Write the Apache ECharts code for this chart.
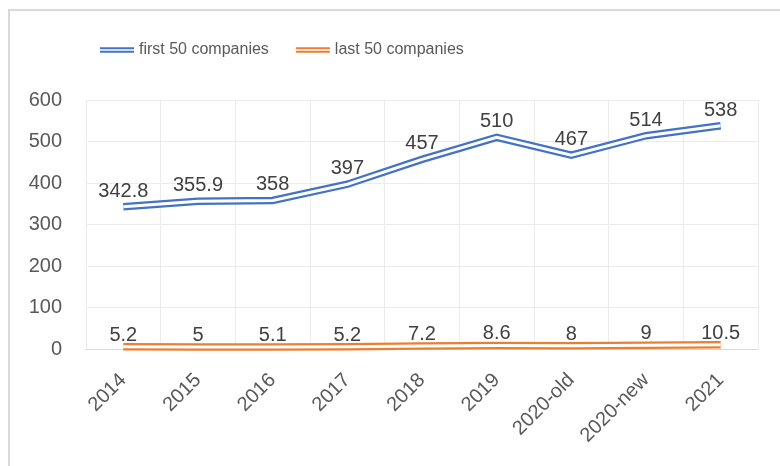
<!DOCTYPE html>
<html>
<head>
<meta charset="utf-8">
<script src="https://cdn.jsdelivr.net/npm/echarts@6/dist/echarts.min.js"></script>
<style>
html,body{margin:0;padding:0;background:#fff;}
#frame{position:absolute;left:8px;top:9px;width:800px;height:480px;border:2px solid #d9d9d9;box-sizing:border-box;}
#c{position:absolute;left:0;top:0;width:780px;height:466px;}
</style>
</head>
<body>
<div id="frame"></div>
<div id="c"></div>
<script>
const categories = ['2014','2015','2016','2017','2018','2019','2020-old','2020-new','2021'];
const first50 = [342.8, 355.9, 358, 397, 457, 510, 467, 514, 538];
const last50 = [5.2, 5, 5.1, 5.2, 7.2, 8.6, 8, 9, 10.5];
const seriesNames = ['first 50 companies', 'last 50 companies'];
const yTicks = {min: 0, max: 600, interval: 100};

const FONT = 'Liberation Sans';
const blue = '#4472C4', orange = '#ED7D31';
const dbl = 'path://M0,0H34V2H0Z M0,3.5H34V5.5H0Z';

function mainSeries(name, data, color, dist) {
  return {
    name: name, type: 'line', data: data, symbol: 'circle', symbolSize: 1, showSymbol: true, z: 2,
    lineStyle: {color: color, width: 7.5, cap: 'butt', join: 'miter'},
    itemStyle: {color: color},
    label: {show: true, position: 'top', distance: dist, offset: [7, 0],
      fontFamily: FONT, fontSize: 20, color: '#404040'},
    labelLayout: {hideOverlap: false},
    animation: false
  };
}
function innerSeries(data) {
  return {
    type: 'line', data: data, symbol: 'none', silent: true, z: 3,
    lineStyle: {color: '#ffffff', width: 3, cap: 'butt', join: 'miter'},
    label: {show: false}, tooltip: {show: false}, animation: false
  };
}

const chart = echarts.init(document.getElementById('c'), null, {renderer: 'canvas'});
chart.setOption({
  backgroundColor: 'transparent',
  animation: false,
  legend: {
    left: 95, top: 37, itemWidth: 34, itemHeight: 6, itemGap: 27,
    data: [{name: seriesNames[0], icon: dbl}, {name: seriesNames[1], icon: dbl}],
    textStyle: {fontFamily: FONT, fontSize: 16, color: '#595959'}
  },
  grid: {left: 86, right: 22, top: 100, bottom: 117, containLabel: false},
  xAxis: {
    type: 'category', data: categories, boundaryGap: true,
    axisLine: {lineStyle: {color: '#d9d9d9', width: 1}},
    axisTick: {show: false},
    splitLine: {show: true, lineStyle: {color: '#ececec', width: 1}},
    axisLabel: {rotate: 45, fontFamily: FONT, fontSize: 20, color: '#595959', margin: 28, interval: 0}
  },
  yAxis: {
    type: 'value', min: yTicks.min, max: yTicks.max, interval: yTicks.interval,
    axisLine: {show: false}, axisTick: {show: false},
    splitLine: {lineStyle: {color: '#ececec', width: 1}},
    axisLabel: {fontFamily: FONT, fontSize: 20, color: '#595959', margin: 24}
  },
  series: [
    mainSeries(seriesNames[0], first50, blue, 5),
    innerSeries(first50),
    mainSeries(seriesNames[1], last50, orange, 1),
    innerSeries(last50)
  ]
});
</script>
</body>
</html>
